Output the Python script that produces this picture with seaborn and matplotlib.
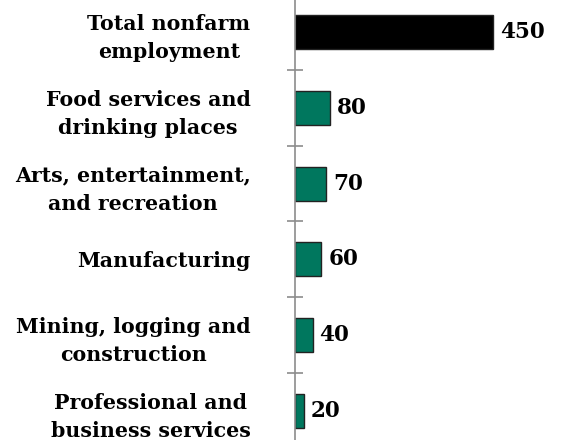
import matplotlib
matplotlib.use("Agg")
import matplotlib.pyplot as plt
import seaborn as sns
import pandas as pd
import numpy as np

categories = ["Total nonfarm\nemployment",
              "Food services and\ndrinking places",
              "Arts, entertainment,\nand recreation",
              "Manufacturing",
              "Mining, logging and\nconstruction",
              "Professional and\nbusiness services"]
values = [450, 80, 70, 60, 40, 20]
colors = ["#000000", "#00775E", "#00775E", "#00775E", "#00775E", "#00775E"]

df = pd.DataFrame({"category": categories, "value": values})

sns.set_style("white")
plt.rcParams["font.family"] = ["DejaVu Serif"]

fig = plt.figure(figsize=(5.61, 4.40), dpi=100)
ax = fig.add_axes([295/561, 1 - 448.9/440, (561-295)/561, 454.8/440])

sns.barplot(data=df, x="value", y="category", hue="category", palette=colors,
            orient="h", width=0.45, edgecolor="#222222", linewidth=1.0,
            legend=False, ax=ax, saturation=1)

ax.set_xlim(0, 605)
ax.set_ylim(5.5, -0.5)
ax.set_xlabel("")
ax.set_ylabel("")
ax.set_xticks([])

for s in ["top", "right", "bottom"]:
    ax.spines[s].set_visible(False)
ax.spines["left"].set_color("#8c8c8c")
ax.spines["left"].set_linewidth(1.2)

ax.set_yticks(range(len(categories)))
ax.set_yticklabels(categories, fontsize=14.8, fontweight="bold", ha="right",
                   multialignment="center", linespacing=1.5, color="black")
ax.tick_params(axis="y", which="major", left=False, length=0, pad=32)
ax.set_yticks(np.arange(0.5, len(categories) - 0.5, 1.0), minor=True)
ax.tick_params(axis="y", which="minor", left=True, length=11.5,
               direction="inout", color="#8c8c8c", width=1.2)

for i, v in enumerate(values):
    ax.text(v + 16, i, str(v), va="center", ha="left", fontsize=15.5,
            fontweight="bold", color="black")

fig.savefig("out.png", dpi=100)
